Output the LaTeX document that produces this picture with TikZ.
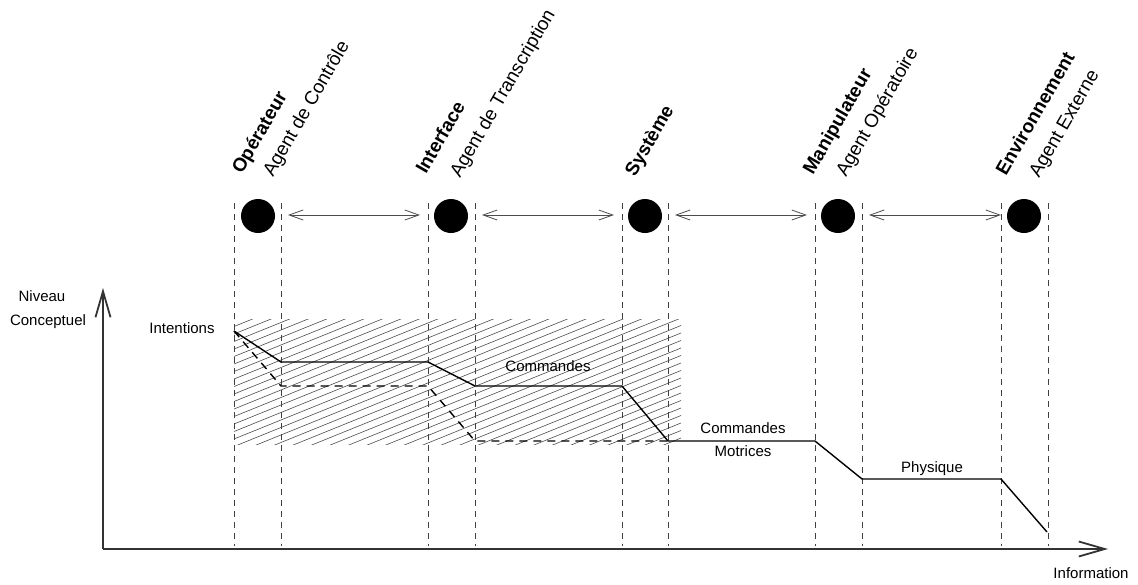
\documentclass[tikz,border=0pt]{standalone}
\usepackage{fontspec}
\setmainfont{Liberation Sans}
\usetikzlibrary{arrows.meta}
\begin{document}
\begin{tikzpicture}[x=1pt,y=-1pt,
  guide/.style={dash pattern=on 6pt off 5pt, line width=0.9pt, black!75},
  level/.style={line width=1.4pt, black},
  levdash/.style={line width=1.4pt, black, dash pattern=on 8pt off 6pt},
  axis/.style={line width=1.8pt, black!80, -{Straight Barb[length=26pt,width=15pt]}},
  link/.style={line width=0.8pt, black!70, {Straight Barb[length=14pt,width=10pt]}-{Straight Barb[length=14pt,width=10pt]}},
  agent/.style={circle, fill=black, minimum size=34pt, inner sep=0pt},
  lab/.style={font=\fontsize{15}{18}\selectfont, inner sep=0pt, anchor=base},
  toplab/.style={font=\fontsize{19}{23}\selectfont, inner sep=0pt, anchor=base west, rotate=60},
  hatchline/.style={line width=0.6pt, black!70}]
\useasboundingbox (0,0) rectangle (1138,584);

% hatched zone
\begin{scope}
  \clip (234,319) rectangle (681,444);
  \foreach \c in {319,326.5,...,632} \draw[hatchline] (234,\c) -- (681,\c-181);
\end{scope}

% vertical guides
\foreach \n/\x in {1/234,2/281,3/428,4/475,5/622,6/668,7/815,8/862,9/1001,10/1048}{
  \coordinate (gt\n) at (\x,203);
  \coordinate (gb\n) at (\x,546);
  \draw[guide] (gt\n) -- (gb\n);
}

% agents
\node[agent] (op) at (258,216) {};
\node[agent] (in) at (451,216) {};
\node[agent] (sy) at (645,216) {};
\node[agent] (ma) at (838,216) {};
\node[agent] (en) at (1024,216) {};

% links between agents
\coordinate (l1a) at (288,215); \coordinate (l1b) at (420,215);
\coordinate (l2a) at (482,215); \coordinate (l2b) at (614,215);
\coordinate (l3a) at (675,215); \coordinate (l3b) at (807,215);
\coordinate (l4a) at (869,215); \coordinate (l4b) at (1001,215);
\draw[link] (l1a) -- (l1b);
\draw[link] (l2a) -- (l2b);
\draw[link] (l3a) -- (l3b);
\draw[link] (l4a) -- (l4b);

% top labels
\node[toplab] (t1) at (242,175) {\textbf{Opérateur}};
\node[toplab] (t1b) at (273,178) {Agent de Contrôle};
\node[toplab] (t2) at (426,175) {\textbf{Interface}};
\node[toplab] (t2b) at (460,179) {Agent de Transcription};
\node[toplab] (t3) at (635,178) {\textbf{Système}};
\node[toplab] (t4) at (813,176) {\textbf{Manipulateur}};
\node[toplab] (t4b) at (846,178) {Agent Opératoire};
\node[toplab] (t5) at (1006,177) {\textbf{Environnement}};
\node[toplab] (t5b) at (1039,179) {Agent Externe};

% axes
\coordinate (O) at (103,549);
\coordinate (ytip) at (103,288);
\coordinate (xtip) at (1108,549);
\draw[axis] (O) -- (ytip);
\draw[axis] (O) -- (xtip);
\node[lab] (niv) at (42,301) {Niveau};
\node[lab] (con) at (48,325) {Conceptuel};
\node[lab] (inf) at (1091,578) {Information};

% level curve
\coordinate (p0) at (234,331);
\coordinate (p1) at (281,362);
\coordinate (p2) at (428,362);
\coordinate (p3) at (475,386);
\coordinate (p4) at (622,386);
\coordinate (p5) at (668,441);
\coordinate (p6) at (815,441);
\coordinate (p7) at (862,479);
\coordinate (p8) at (1001,479);
\coordinate (p9) at (1047,532);
\coordinate (q1) at (281,386);
\coordinate (q2) at (428,386);
\coordinate (q3) at (475,441);
\draw[levdash] (p0) -- (q1) -- (q2) -- (q3) -- (p5);
\draw[level] (p0) -- (p1) -- (p2) -- (p3) -- (p4) -- (p5) -- (p6) -- (p7) -- (p8) -- (p9);

% level labels
\node[lab] (int) at (182,333) {Intentions};
\node[lab] (cmd) at (548,371) {Commandes};
\node[lab] (cmd2) at (743,433) {Commandes};
\node[lab] (mot) at (743,456) {Motrices};
\node[lab] (phy) at (932,472) {Physique};
\end{tikzpicture}
\end{document}
